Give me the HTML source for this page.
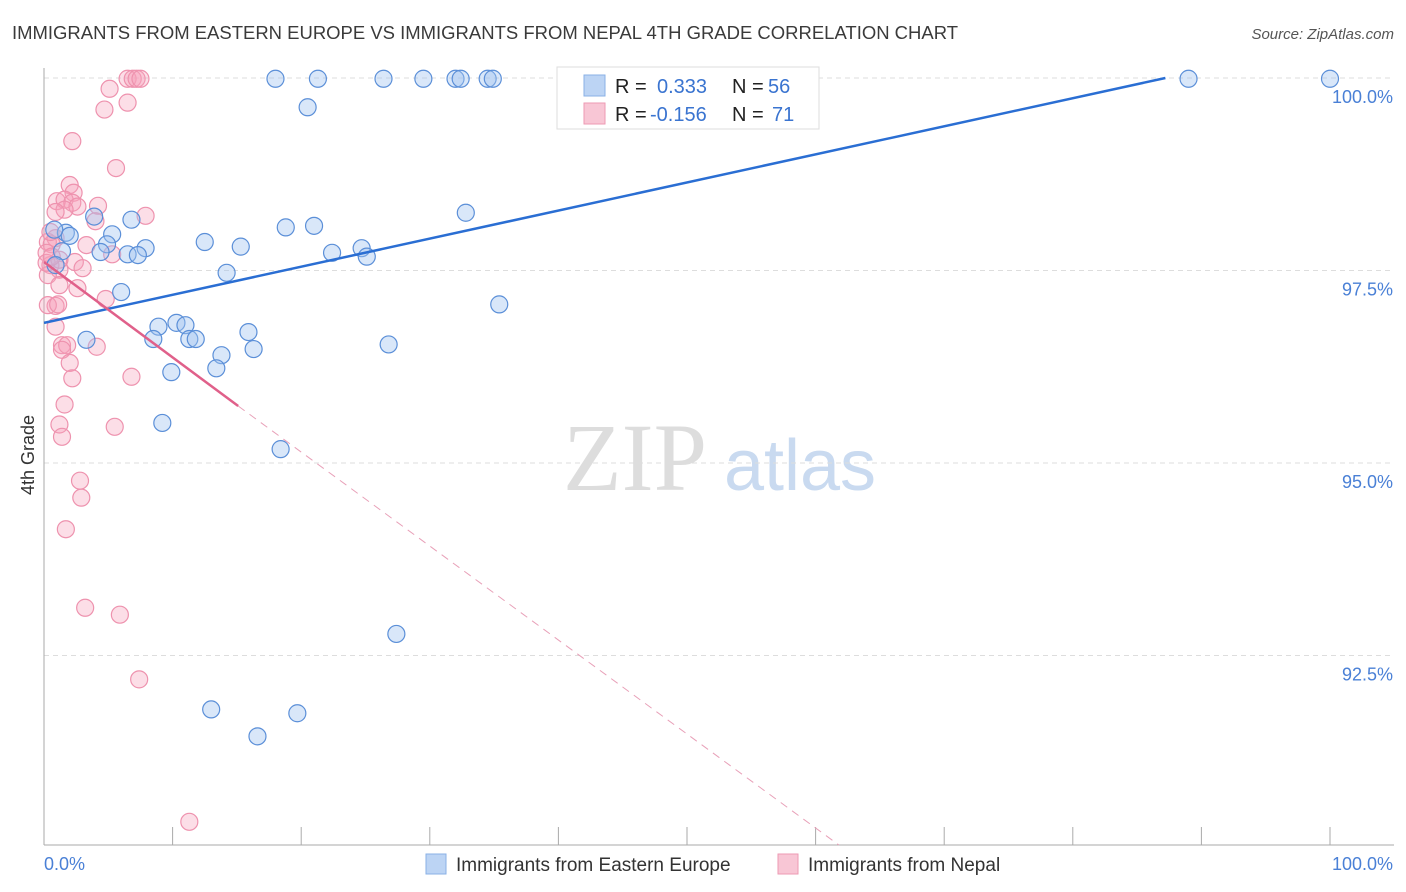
<!DOCTYPE html>
<html><head><meta charset="utf-8"><style>
body{margin:0;background:#fff;font-family:"Liberation Sans",sans-serif;}
svg{display:block}
</style></head><body>
<svg id="chart" width="1406" height="892" xmlns="http://www.w3.org/2000/svg">
<text x="12" y="39" font-size="18" fill="#3a3a3a" textLength="946" lengthAdjust="spacingAndGlyphs">IMMIGRANTS FROM EASTERN EUROPE VS IMMIGRANTS FROM NEPAL 4TH GRADE CORRELATION CHART</text>
<text x="1394" y="39" font-size="15" fill="#555" font-style="italic" text-anchor="end">Source: ZipAtlas.com</text>
<text x="34" y="455" font-size="18" fill="#333" transform="rotate(-90 34 455)" text-anchor="middle">4th Grade</text>
<g><text x="635" y="490" font-size="96" fill="#ddd" font-family="Liberation Serif,serif" text-anchor="middle">ZIP</text><text x="800" y="490" font-size="72" fill="#c9daf0" text-anchor="middle">atlas</text></g>
<g id="grid"></g><g id="axes"></g><g id="pts"></g><g id="lines"></g>
<g>
<rect x="557" y="67" width="262" height="62" fill="#fff" stroke="#ddd"/>
<rect x="584" y="75" width="21" height="21" fill="#bcd4f4" stroke="#8ab0e6"/>
<rect x="584" y="103" width="21" height="21" fill="#f8c6d5" stroke="#ee9ab3"/>
<text x="615" y="93" font-size="20" fill="#222">R =</text><text x="657" y="93" font-size="20" fill="#3a74d0">0.333</text>
<text x="732" y="93" font-size="20" fill="#222">N =</text><text x="768" y="93" font-size="20" fill="#3a74d0">56</text>
<text x="615" y="121" font-size="20" fill="#222">R =</text><text x="650" y="121" font-size="20" fill="#3a74d0">-0.156</text>
<text x="732" y="121" font-size="20" fill="#222">N =</text><text x="772" y="121" font-size="20" fill="#3a74d0">71</text>
</g>
<g>
<rect x="426" y="854" width="20" height="20" fill="#bcd4f4" stroke="#8ab0e6"/>
<text x="456" y="871" font-size="19" fill="#333">Immigrants from Eastern Europe</text>
<rect x="778" y="854" width="20" height="20" fill="#f8c6d5" stroke="#ee9ab3"/>
<text x="808" y="871" font-size="19" fill="#333">Immigrants from Nepal</text>
</g>
</svg>
<script>
const yTicks=[100,97.5,95,92.5];
const yTickLabels=["100.0%","97.5%","95.0%","92.5%"];
const blueX=[18,21.3,26.4,29.5,32,32.4,34.5,34.9,50,89,100,20.5,32.8,3.9,6.8,18.8,21,5.3,1.7,2,0.8,12.5,15.3,4.9,7.9,24.7,22.4,25.1,4.4,6.5,7.3,1.4,14.2,0.9,6,35.4,8.9,10.3,11,15.9,8.5,11.3,11.8,3.3,26.8,16.3,13.8,9.9,13.4,9.2,18.4,27.4,13,19.7,16.6];
const blueY=[99.99,99.99,99.99,99.99,99.99,99.99,99.99,99.99,99.99,99.99,99.99,99.62,98.25,98.2,98.16,98.06,98.08,97.97,97.99,97.95,98.03,97.87,97.81,97.84,97.79,97.79,97.73,97.68,97.74,97.71,97.7,97.75,97.47,97.57,97.22,97.06,96.77,96.82,96.79,96.7,96.61,96.61,96.61,96.6,96.54,96.48,96.4,96.18,96.23,95.52,95.18,92.78,91.8,91.75,91.45];
const pinkX=[6.5,6.9,7.2,7.5,5.1,6.5,4.7,2.2,5.6,2,2.3,1,1.6,2.2,2.6,4.2,1.6,0.9,7.9,4,3.3,0.9,0.3,0.6,5.3,2.4,1.2,3.0,0.5,0.3,1.2,2.6,4.8,0.9,0.3,1.1,0.9,1.4,1.8,1.4,4.1,2,2.2,6.8,1.6,1.2,5.5,1.4,2.8,2.9,1.7,3.2,5.9,7.4,11.3,0.2,0.2,0.5,1.2,0.6];
const pinkY=[99.99,99.99,99.99,99.99,99.86,99.68,99.59,99.18,98.83,98.61,98.51,98.4,98.42,98.38,98.33,98.34,98.29,98.26,98.21,98.14,97.83,97.92,97.87,97.84,97.71,97.61,97.51,97.53,97.57,97.44,97.31,97.27,97.13,97.04,97.05,97.06,96.77,96.53,96.53,96.47,96.51,96.3,96.1,96.12,95.76,95.5,95.47,95.34,94.77,94.55,94.14,93.12,93.03,92.19,90.34,97.73,97.6,98,97.64,97.68];
const blueFit=[0,96.82,87.2,100];
const pinkFit=[0,97.61,15.1,95.74,61.8,90.04];
const ns="http://www.w3.org/2000/svg";
const X=v=>44+v*12.86, Y=v=>78+(100-v)*77;
function mk(t,a,p){const e=document.createElementNS(ns,t);for(const k in a)e.setAttribute(k,a[k]);p.appendChild(e);return e;}
const grid=document.getElementById('grid'),axes=document.getElementById('axes');
yTicks.forEach((t,i)=>{
 const l=mk('line',{x1:44,x2:1394,y1:Y(t),y2:Y(t),stroke:'#ddd','stroke-dasharray':'5,4'},grid);
 
 
 const tx=mk('text',{x:1393,y:Y(t)+25,'font-size':18,fill:'#4a80d6','text-anchor':'end'},axes);
 tx.textContent=yTickLabels[i];
 
 
});
const ya=mk('line',{x1:44,x2:44,y1:68,y2:845,stroke:'#aaa'},axes);


const xa=mk('line',{x1:44,x2:1394,y1:845,y2:845,stroke:'#aaa'},axes);


for(let i=0;i<=10;i++){const t=mk('line',{x1:44+i*128.6,x2:44+i*128.6,y1:827,y2:845,stroke:'#aaa'},axes);
 
 }
const x0=mk('text',{x:44,y:870,'font-size':18,fill:'#4a80d6'},axes);x0.textContent='0.0%';


const x1=mk('text',{x:1393,y:870,'font-size':18,fill:'#4a80d6','text-anchor':'end'},axes);x1.textContent='100.0%';


const pts=document.getElementById('pts');
pinkX.forEach((v,i)=>{const c=mk('circle',{cx:X(v),cy:Y(pinkY[i]),r:8.5,fill:'rgba(245,160,185,0.35)',stroke:'#ee92ae','stroke-width':1.2},pts);
 
 });
blueX.forEach((v,i)=>{const c=mk('circle',{cx:X(v),cy:Y(blueY[i]),r:8.5,fill:'rgba(160,195,240,0.4)',stroke:'#5b8fd8','stroke-width':1.2},pts);
 
 });
const lines=document.getElementById('lines');
const bl=mk('line',{x1:X(blueFit[0]),y1:Y(blueFit[1]),x2:X(blueFit[2]),y2:Y(blueFit[3]),stroke:'#2a6ed3','stroke-width':2.5},lines);


const pl=mk('line',{x1:X(pinkFit[0]),y1:Y(pinkFit[1]),x2:X(pinkFit[2]),y2:Y(pinkFit[3]),stroke:'#e0608a','stroke-width':2.5},lines);


const pd=mk('line',{x1:X(pinkFit[2]),y1:Y(pinkFit[3]),x2:X(pinkFit[4]),y2:Y(pinkFit[5]),stroke:'#e8a0b8','stroke-width':1,'stroke-dasharray':'8,6'},lines);


</script>
</body></html>
